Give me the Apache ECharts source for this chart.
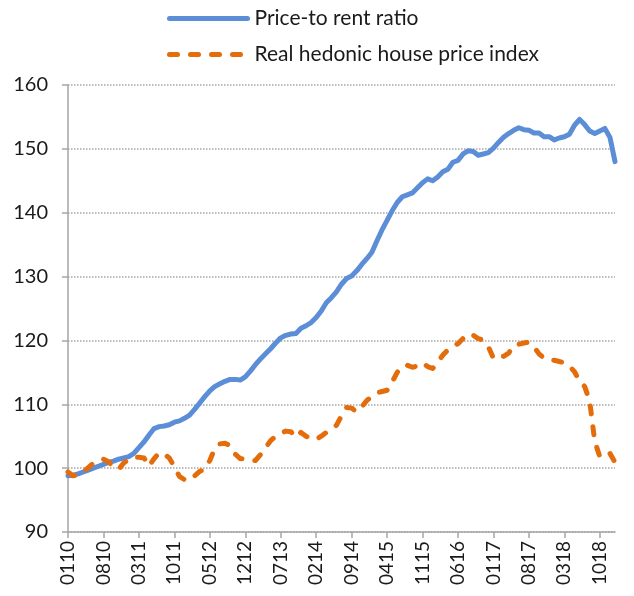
<!DOCTYPE html>
<html>
<head>
<meta charset="utf-8">
<script src="https://cdn.jsdelivr.net/npm/echarts@6/dist/echarts.min.js"></script>
<style>
  html, body { margin: 0; padding: 0; background: #fff; }
  #chart { width: 634px; height: 596px; }
</style>
</head>
<body>
<div id="chart"></div>
<script>
// monthly, MMYY, Jan 2010 .. Jan 2019
var months = [
  '0110','0210','0310','0410','0510','0610','0710','0810','0910','1010','1110','1210',
  '0111','0211','0311','0411','0511','0611','0711','0811','0911','1011','1111','1211',
  '0112','0212','0312','0412','0512','0612','0712','0812','0912','1012','1112','1212',
  '0113','0213','0313','0413','0513','0613','0713','0813','0913','1013','1113','1213',
  '0114','0214','0314','0414','0514','0614','0714','0814','0914','1014','1114','1214',
  '0115','0215','0315','0415','0515','0615','0715','0815','0915','1015','1115','1215',
  '0116','0216','0316','0416','0516','0616','0716','0816','0916','1016','1116','1216',
  '0117','0217','0317','0417','0517','0617','0717','0817','0917','1017','1117','1217',
  '0118','0218','0318','0418','0518','0618','0718','0818','0918','1018','1118','1218',
  '0119'
];

var priceToRent = [
  98.8, 98.9, 99.1, 99.4, 99.7, 100.0, 100.3, 100.6, 100.9, 101.1, 101.4, 101.6,
  101.8, 102.3, 103.2, 104.1, 105.2, 106.2, 106.5, 106.6, 106.8, 107.2, 107.4, 107.8,
  108.3, 109.2, 110.2, 111.2, 112.1, 112.8, 113.2, 113.6, 113.9, 113.9, 113.8, 114.3,
  115.2, 116.2, 117.1, 117.9, 118.7, 119.6, 120.4, 120.8, 121.0, 121.1, 121.9, 122.3,
  122.8, 123.6, 124.6, 125.9, 126.7, 127.6, 128.8, 129.7, 130.1, 130.9, 131.9, 132.8,
  133.8, 135.6, 137.3, 138.8, 140.3, 141.6, 142.5, 142.8, 143.1, 143.9, 144.7, 145.3,
  145.0, 145.6, 146.4, 146.8, 147.9, 148.2, 149.2, 149.7, 149.6, 149.0, 149.2, 149.4,
  150.1, 151.0, 151.8, 152.4, 152.9, 153.3, 153.0, 152.9, 152.5, 152.5, 151.9, 151.9,
  151.4, 151.7, 151.9, 152.3, 153.7, 154.6, 153.8, 152.8, 152.4, 152.8, 153.2, 151.8,
  148.0
];

var realHedonic = [
  99.4, 98.8, 98.9, 99.4, 100.1, 100.8, 101.2, 101.4, 101.0, 100.2, 99.8, 100.8,
  101.4, 101.7, 101.7, 101.6, 100.3, 101.5, 102.4, 102.2, 101.6, 100.2, 98.7, 98.2,
  98.1, 98.8, 99.5, 99.8, 101.2, 103.1, 103.8, 103.9, 103.5, 102.2, 101.5, 101.4,
  101.2, 101.2, 102.1, 103.2, 104.3, 105.0, 105.4, 105.8, 105.7, 104.8, 105.6, 105.0,
  104.6, 104.5, 105.0, 105.6, 106.1, 106.7, 108.2, 109.5, 109.4, 108.8, 109.6, 110.6,
  111.2, 111.8, 112.0, 112.2, 113.5, 115.0, 116.0, 116.1, 115.8, 116.0, 116.5, 115.9,
  115.6, 116.6, 117.7, 118.5, 119.1, 119.5, 120.3, 121.0, 120.8, 120.3, 120.0, 119.0,
  117.2, 117.6, 117.5, 118.0, 119.2, 119.4, 119.6, 119.7, 119.0, 117.9, 117.2, 117.0,
  116.9, 116.7, 116.5, 116.0, 115.1, 113.6, 112.8, 110.5, 104.2, 101.8, 101.8, 102.3,
  100.9
];

var font = 'Lato';
var gridColor = '#a6a6a6';
var blue = '#5b8ed6';
var orange = '#e46c0a';

var myChart = echarts.init(document.getElementById('chart'), null, { renderer: 'canvas' });

var option = {
  animation: false,
  grid: { left: 68, right: 19, top: 85, bottom: 64, containLabel: false },
  legend: {
    orient: 'vertical',
    left: 162,
    top: 3,
    itemWidth: 78,
    itemHeight: 14,
    itemGap: 15,
    itemStyle: { opacity: 0 },
    lineStyle: { width: 5, cap: 'round' },
    textStyle: { fontFamily: font, fontSize: 21, color: '#1a1a1a', padding: [0, 0, 0, 2] },
    data: ['Price-to rent ratio', 'Real hedonic house price index']
  },
  xAxis: {
    type: 'category',
    data: months,
    boundaryGap: false,
    axisLine: { lineStyle: { color: gridColor, width: 1.5 } },
    axisTick: { interval: 6, length: 6, lineStyle: { color: gridColor, width: 1.5 } },
    axisLabel: { interval: 6, rotate: 90, margin: 9, fontFamily: font, fontSize: 19, color: '#1a1a1a' },
    splitLine: { show: false }
  },
  yAxis: {
    type: 'value',
    min: 90,
    max: 160,
    interval: 10,
    axisLine: { show: true, lineStyle: { color: gridColor, width: 1.5 } },
    axisTick: { show: true, length: 6, lineStyle: { color: gridColor, width: 1.5 } },
    axisLabel: { margin: 20, fontFamily: font, fontSize: 20, color: '#1a1a1a' },
    splitLine: { lineStyle: { color: gridColor, width: 1.5, type: [1.5, 1.5] } }
  },
  series: [
    {
      name: 'Price-to rent ratio',
      type: 'line',
      data: priceToRent,
      symbol: 'none',
      itemStyle: { color: blue },
      lineStyle: { color: blue, width: 5, cap: 'round', join: 'round' }
    },
    {
      name: 'Real hedonic house price index',
      type: 'line',
      data: realHedonic,
      symbol: 'none',
      itemStyle: { color: orange },
      lineStyle: { color: orange, width: 5, type: [8, 13], cap: 'round', join: 'round' }
    }
  ]
};

myChart.setOption(option);
window.addEventListener('resize', myChart.resize);
</script>
</body>
</html>
